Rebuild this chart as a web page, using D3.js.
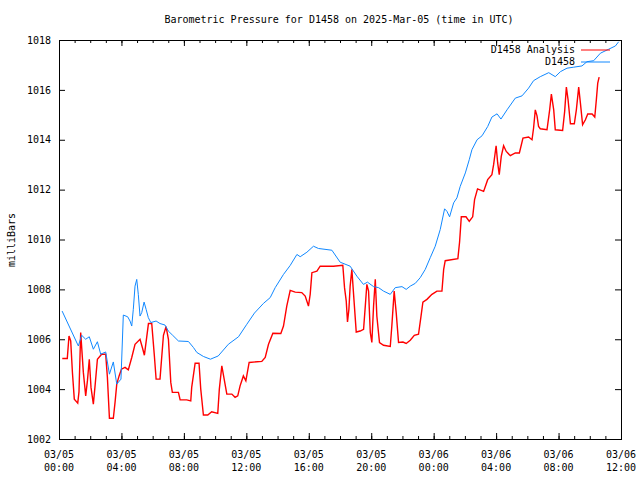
<!DOCTYPE html>
<html lang="en">
<head>
    <meta charset="UTF-8">
    <title>Barometric Pressure D1458</title>
    <script src="https://d3js.org/d3.v7.min.js"></script>
    <style>
        body { margin: 0; background: #fff; }
        text { font-family: "DejaVu Sans Mono", monospace; font-size: 10px; fill: #000; }
    </style>
</head>
<body>
    <svg width="640" height="480"></svg>
    <script>
        // hours after 2025-03-05 00:00 UTC
        const analysisHours = [0.21, 0.53, 0.64, 0.75, 0.86, 0.98, 1.2, 1.28, 1.39, 1.56, 1.71, 1.82, 1.94, 2.05, 2.2, 2.31, 2.46, 2.73, 2.99, 3.1, 3.23, 3.48, 3.59, 3.7, 3.85, 4.0, 4.23, 4.44, 4.66, 4.87, 5.19, 5.34, 5.47, 5.73, 5.94, 6.11, 6.22, 6.47, 6.69, 6.86, 7.01, 7.16, 7.26, 7.65, 7.76, 8.18, 8.44, 8.5, 8.72, 8.97, 9.08, 9.25, 9.53, 9.78, 10.17, 10.27, 10.43, 10.58, 10.75, 11.07, 11.28, 11.45, 11.6, 11.81, 11.97, 12.18, 12.99, 13.21, 13.42, 13.7, 14.21, 14.38, 14.59, 14.81, 15.13, 15.55, 15.77, 15.98, 16.09, 16.2, 16.52, 16.73, 17.58, 18.18, 18.29, 18.4, 18.48, 18.57, 18.65, 18.76, 18.87, 19.04, 19.29, 19.51, 19.62, 19.72, 19.83, 19.94, 20.04, 20.15, 20.26, 20.36, 20.53, 20.79, 21.22, 21.32, 21.47, 21.6, 21.75, 22.03, 22.24, 22.5, 22.76, 23.03, 23.19, 23.31, 23.57, 23.89, 24.21, 24.53, 24.64, 24.74, 25.55, 25.66, 25.77, 26.07, 26.28, 26.5, 26.62, 26.81, 27.2, 27.46, 27.73, 27.84, 28.0, 28.1, 28.2, 28.33, 28.48, 28.65, 28.91, 29.23, 29.49, 29.72, 30.08, 30.3, 30.4, 30.51, 30.62, 30.72, 30.83, 31.26, 31.43, 31.54, 31.69, 31.79, 32.26, 32.39, 32.5, 32.61, 32.76, 33.01, 33.14, 33.29, 33.4, 33.54, 33.72, 33.87, 34.15, 34.32, 34.42, 34.51, 34.6];
        const analysisMb = [1005.23, 1005.23, 1006.13, 1005.93, 1004.67, 1003.6, 1003.44, 1003.89, 1006.27, 1004.67, 1003.73, 1004.33, 1005.2, 1004.07, 1003.4, 1004.13, 1005.2, 1005.4, 1005.4, 1004.47, 1002.83, 1002.83, 1003.47, 1004.2, 1004.53, 1004.8, 1004.87, 1004.77, 1005.27, 1005.8, 1006.0, 1005.67, 1005.36, 1006.63, 1006.63, 1005.33, 1004.4, 1004.4, 1006.16, 1006.51, 1006.0, 1004.27, 1003.87, 1003.87, 1003.57, 1003.57, 1003.53, 1004.07, 1005.04, 1005.04, 1004.0, 1002.96, 1002.96, 1003.09, 1003.03, 1004.0, 1004.93, 1004.4, 1003.8, 1003.8, 1003.67, 1003.73, 1004.13, 1004.53, 1004.33, 1005.07, 1005.11, 1005.27, 1005.8, 1006.24, 1006.23, 1006.53, 1007.33, 1007.96, 1007.89, 1007.87, 1007.73, 1007.33, 1007.8, 1008.67, 1008.73, 1008.93, 1008.93, 1008.97, 1008.07, 1007.53, 1006.69, 1007.2, 1008.13, 1008.8, 1007.8, 1006.29, 1006.33, 1006.4, 1007.33, 1008.2, 1007.93, 1006.27, 1005.87, 1007.33, 1008.4, 1006.93, 1005.87, 1005.76, 1005.71, 1006.53, 1007.93, 1007.07, 1005.87, 1005.89, 1005.83, 1005.96, 1006.16, 1006.2, 1006.93, 1007.49, 1007.6, 1007.8, 1007.93, 1007.93, 1008.8, 1009.15, 1009.23, 1009.9, 1010.91, 1010.91, 1010.73, 1010.91, 1011.6, 1012.03, 1011.93, 1012.4, 1012.6, 1013.0, 1013.76, 1013.07, 1012.6, 1013.33, 1013.76, 1013.53, 1013.36, 1013.47, 1013.47, 1014.07, 1014.11, 1014.0, 1014.47, 1015.2, 1014.96, 1014.53, 1014.44, 1014.4, 1015.2, 1015.83, 1015.2, 1014.4, 1014.37, 1015.13, 1016.11, 1015.6, 1014.64, 1014.64, 1015.2, 1016.11, 1015.47, 1014.6, 1014.8, 1015.03, 1015.03, 1014.91, 1015.6, 1016.27, 1016.51];

        const stationHours = [0.2, 1.24, 1.45, 1.71, 1.94, 2.2, 2.46, 2.67, 2.99, 3.23, 3.48, 3.7, 3.97, 4.12, 4.4, 4.55, 4.66, 4.76, 4.87, 4.98, 5.08, 5.19, 5.3, 5.45, 5.58, 5.72, 5.88, 6.22, 6.47, 6.79, 7.0, 7.28, 7.65, 8.29, 8.61, 8.83, 9.25, 9.7, 10.2, 10.85, 11.5, 12.03, 12.52, 13.1, 13.53, 13.85, 14.38, 14.81, 15.24, 15.45, 15.88, 16.3, 16.62, 17.48, 18.01, 18.65, 19.08, 19.5, 19.76, 20.15, 20.47, 20.79, 21.22, 21.54, 21.97, 22.24, 22.5, 22.82, 23.14, 23.46, 23.78, 24.1, 24.42, 24.7, 24.85, 25.02, 25.28, 25.49, 25.7, 26.03, 26.28, 26.45, 26.78, 27.1, 27.46, 27.73, 28.06, 28.31, 28.7, 29.23, 29.66, 30.08, 30.4, 30.83, 31.37, 31.79, 32.12, 32.54, 32.97, 33.5, 33.82, 34.25, 34.68, 35.21, 35.64, 35.85];
        const stationMb = [1007.13, 1005.73, 1006.16, 1006.0, 1006.1, 1005.6, 1005.9, 1005.4, 1005.49, 1004.6, 1005.09, 1004.2, 1004.4, 1006.97, 1006.9, 1006.73, 1006.53, 1007.2, 1008.13, 1008.4, 1007.8, 1006.93, 1007.07, 1007.49, 1007.2, 1006.87, 1006.67, 1006.73, 1006.63, 1006.57, 1006.33, 1006.16, 1005.93, 1005.91, 1005.67, 1005.47, 1005.31, 1005.2, 1005.33, 1005.8, 1006.1, 1006.6, 1007.05, 1007.44, 1007.67, 1008.07, 1008.6, 1008.96, 1009.4, 1009.31, 1009.49, 1009.73, 1009.64, 1009.57, 1009.09, 1008.93, 1008.53, 1008.2, 1008.29, 1008.11, 1008.07, 1007.93, 1007.8, 1008.07, 1008.11, 1008.0, 1008.13, 1008.24, 1008.47, 1008.8, 1009.27, 1009.73, 1010.4, 1011.23, 1011.13, 1010.91, 1011.47, 1011.67, 1012.13, 1012.67, 1013.2, 1013.6, 1014.0, 1014.16, 1014.53, 1014.91, 1015.04, 1014.83, 1015.2, 1015.67, 1015.76, 1016.07, 1016.37, 1016.53, 1016.69, 1016.53, 1016.73, 1016.87, 1016.91, 1016.96, 1017.13, 1017.17, 1017.47, 1017.63, 1017.76, 1017.93];

        const yTicks = [1002, 1004, 1006, 1008, 1010, 1012, 1014, 1016, 1018];
        const xTickLabels = [["03/05", "00:00"], ["03/05", "04:00"], ["03/05", "08:00"], ["03/05", "12:00"], ["03/05", "16:00"],
                             ["03/05", "20:00"], ["03/06", "00:00"], ["03/06", "04:00"], ["03/06", "08:00"], ["03/06", "12:00"]];

        const t0 = Date.UTC(2025, 2, 5);
        const toDate = h => new Date(t0 + h * 3600 * 1000);

        const svg = d3.select("svg");
        const plotL = 59, plotR = 621, plotT = 40, plotB = 439;

        const x = d3.scaleUtc()
            .domain([toDate(0), toDate(36)])
            .range([plotL, plotR]);
        const y = d3.scaleLinear()
            .domain([1002, 1018])
            .range([plotB, plotT]);

        // title + y label
        svg.append("text")
            .attr("x", 339).attr("y", 20)
            .attr("text-anchor", "middle").attr("dominant-baseline", "middle")
            .text("Barometric Pressure for D1458 on 2025-Mar-05 (time in UTC)");
        svg.append("text")
            .attr("transform", "translate(12,240) rotate(-90)")
            .attr("text-anchor", "middle").attr("dominant-baseline", "middle")
            .text("milliBars");

        // ticks, pointing inward on all four sides
        const hours4 = d3.range(0, 37, 4).map(toDate);
        const hours1 = d3.range(0, 37, 1).map(toDate);
        function noDomain(g) { g.select(".domain").remove(); g.selectAll("line").attr("stroke", "#000"); }

        svg.append("g").attr("transform", `translate(0,${plotB})`)
            .call(d3.axisBottom(x).tickValues(hours1).tickSize(-3).tickFormat(""))
            .call(noDomain);
        svg.append("g").attr("transform", `translate(0,${plotB})`)
            .call(d3.axisBottom(x).tickValues(hours4).tickSize(-6).tickFormat(""))
            .call(noDomain);
        svg.append("g").attr("transform", `translate(0,${plotT})`)
            .call(d3.axisTop(x).tickValues(hours1).tickSize(-3).tickFormat(""))
            .call(noDomain);
        svg.append("g").attr("transform", `translate(0,${plotT})`)
            .call(d3.axisTop(x).tickValues(hours4).tickSize(-6).tickFormat(""))
            .call(noDomain);
        svg.append("g").attr("transform", `translate(${plotL},0)`)
            .call(d3.axisLeft(y).tickValues(yTicks).tickSize(-6).tickPadding(8).tickFormat(d3.format("d")))
            .call(noDomain)
            .call(g => g.attr("font-family", null).attr("font-size", null));
        svg.append("g").attr("transform", `translate(${plotR},0)`)
            .call(d3.axisRight(y).tickValues(yTicks).tickSize(-6).tickFormat(""))
            .call(noDomain);

        // two-line time labels
        const xl = svg.append("g").selectAll("text")
            .data(hours4)
            .join("text")
            .attr("text-anchor", "middle")
            .attr("x", d => x(d));
        xl.append("tspan").attr("x", d => x(d)).attr("y", 458).text((d, i) => xTickLabels[i][0]);
        xl.append("tspan").attr("x", d => x(d)).attr("y", 471).text((d, i) => xTickLabels[i][1]);

        // frame
        svg.append("rect")
            .attr("x", plotL).attr("y", plotT)
            .attr("width", plotR - plotL).attr("height", plotB - plotT)
            .attr("fill", "none").attr("stroke", "#000")
            .attr("shape-rendering", "crispEdges");

        const line = d3.line().x(d => x(toDate(d[0]))).y(d => y(d[1]));
        const analysis = d3.zip(analysisHours, analysisMb);
        const station = d3.zip(stationHours, stationMb);

        svg.append("path").datum(analysis)
            .attr("d", line).attr("fill", "none")
            .attr("stroke", "#ff0000").attr("stroke-width", 1.4);
        svg.append("path").datum(station)
            .attr("d", line).attr("fill", "none")
            .attr("stroke", "#1088ff").attr("stroke-width", 1);

        // key
        const key = [["D1458 Analysis", "#ff0000", 50], ["D1458", "#1088ff", 62]];
        key.forEach(([label, color, ky]) => {
            svg.append("text").attr("x", 575).attr("y", ky)
                .attr("text-anchor", "end").attr("dominant-baseline", "middle").text(label);
            svg.append("line").attr("x1", 581).attr("x2", 610).attr("y1", ky).attr("y2", ky)
                .attr("stroke", color).attr("stroke-width", 1);
        });
    </script>
</body>
</html>
